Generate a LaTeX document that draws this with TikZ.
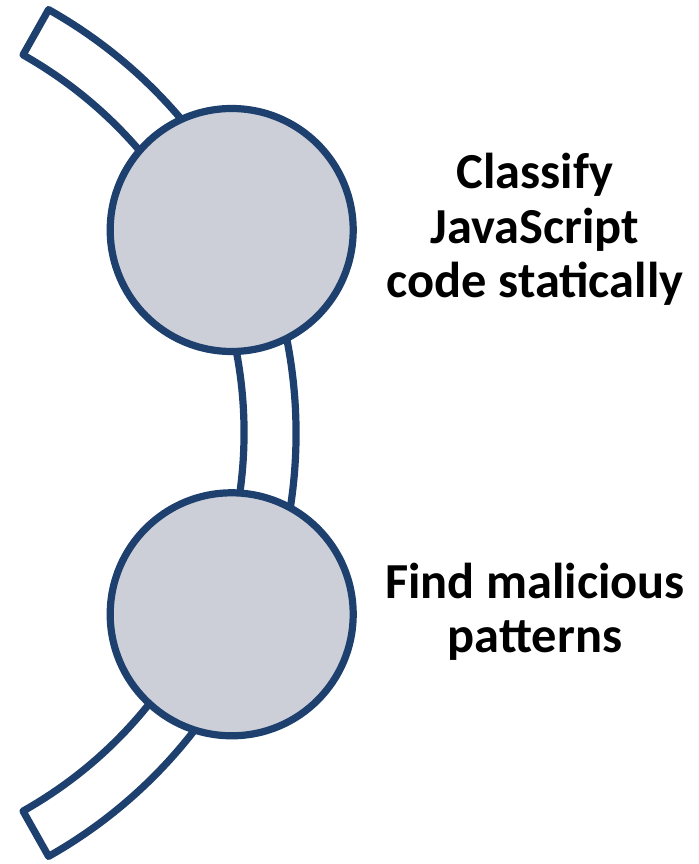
\documentclass[tikz,border=0pt]{standalone}
\usepackage{fontspec}
\setmainfont{Carlito}
\usetikzlibrary{calc}
\definecolor{ringblue}{RGB}{30,64,110}
\definecolor{discgray}{RGB}{204,207,216}

\begin{document}
\begin{tikzpicture}
	\tikzset{band/.style={draw=ringblue,line width=4.1pt,line join=round,fill=white},
		disc/.style={circle,draw=ringblue,line width=4.1pt,fill=discgray,minimum size=4.86cm,inner sep=0pt},
		caption/.style={align=center,font=\fontsize{28.7}{31.2}\selectfont\bfseries,anchor=base}}
	\useasboundingbox (0,0) rectangle (13.96,17.28);
	\coordinate (O) at (-3.8,8.62);
	\draw[band] ($(O)+(60.6:9.72)$) arc[start angle=60.6,end angle=-60.6,radius=9.72]
		-- ($(O)+(-60.6:8.68)$) arc[start angle=-60.6,end angle=60.6,radius=8.68] -- cycle;
	\node[disc] (c1) at (4.634,12.68) {};
	\node[disc] (c2) at (4.634,4.994) {};
	\node[caption] (t1) at (10.7,11.32) {Classify\\JavaScript\\code statically};
	\node[caption] (t2) at (10.7,4.22) {Find malicious\\patterns};
\end{tikzpicture}
\end{document}
